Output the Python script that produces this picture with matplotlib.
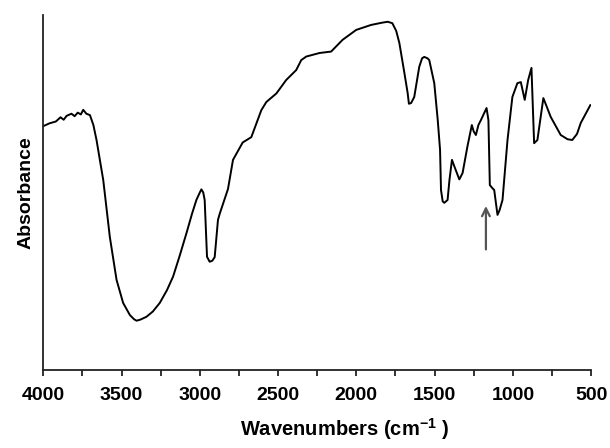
import matplotlib.pyplot as plt
from matplotlib.ticker import MultipleLocator

# IR spectrum (wavenumber, relative absorbance)
wavenumber = [4000, 3960, 3920, 3890, 3870, 3851, 3820, 3800, 3780, 3760, 3745,
              3725, 3702, 3680, 3660, 3617, 3575, 3532, 3490, 3447, 3420, 3404,
              3380, 3341, 3300, 3256, 3210, 3171, 3130, 3085, 3050, 3022, 3000,
              2990, 2978, 2969, 2954, 2937, 2920, 2905, 2884, 2873, 2820, 2788,
              2726, 2671, 2607, 2575, 2511, 2448, 2384, 2352, 2320, 2235, 2161,
              2088, 2001, 1906, 1840, 1800, 1770, 1745, 1725, 1693, 1672, 1664,
              1650, 1630, 1598, 1580, 1566, 1545, 1534, 1502, 1480, 1465, 1459,
              1448, 1438, 1417, 1405, 1389, 1374, 1342, 1321, 1290, 1262, 1250,
              1236, 1220, 1204, 1168, 1156, 1147, 1130, 1119, 1098, 1085, 1066,
              1034, 1003, 971, 949, 924, 902, 881, 864, 843, 805, 780, 758, 694,
              650, 620, 590, 566, 505]
absorbance = [0.687, 0.695, 0.700, 0.712, 0.705, 0.716, 0.722, 0.715, 0.725, 0.720, 0.733,
              0.722, 0.718, 0.690, 0.648, 0.535, 0.375, 0.254, 0.189, 0.155, 0.143, 0.139,
              0.142, 0.150, 0.165, 0.189, 0.225, 0.263, 0.320, 0.386, 0.440, 0.479, 0.500,
              0.509, 0.500, 0.479, 0.319, 0.305, 0.308, 0.318, 0.423, 0.440, 0.510, 0.592,
              0.641, 0.656, 0.732, 0.755, 0.779, 0.817, 0.845, 0.873, 0.883, 0.893, 0.897,
              0.930, 0.958, 0.972, 0.978, 0.981, 0.977, 0.955, 0.921, 0.837, 0.780, 0.750,
              0.752, 0.769, 0.854, 0.878, 0.882, 0.878, 0.873, 0.808, 0.705, 0.620, 0.507,
              0.475, 0.471, 0.479, 0.535, 0.592, 0.574, 0.537, 0.555, 0.630, 0.690, 0.672,
              0.662, 0.690, 0.704, 0.738, 0.704, 0.521, 0.512, 0.507, 0.437, 0.450, 0.479,
              0.648, 0.769, 0.808, 0.811, 0.761, 0.817, 0.851, 0.639, 0.648, 0.766, 0.738,
              0.713, 0.662, 0.650, 0.648, 0.665, 0.696, 0.746]

# arrow marking the band of interest
arrow_x = 1172
arrow_y = (0.332, 0.470)

plt.rcParams.update({
    "font.family": "Liberation Sans",
    "font.weight": "bold",
    "mathtext.fontset": "custom",
    "mathtext.rm": "Liberation Sans:bold",
    "mathtext.bf": "Liberation Sans:bold",
    "mathtext.default": "bf",
})

fig = plt.figure(figsize=(6.1, 4.48), dpi=100)
ax = fig.add_axes([0.071, 0.174, 0.898, 0.7925])

ax.plot(wavenumber, absorbance, color='black', linewidth=1.4,
        solid_joinstyle='round')

ax.annotate('', xy=(arrow_x, arrow_y[1]), xytext=(arrow_x, arrow_y[0]),
            arrowprops=dict(arrowstyle='->', color='#555555', lw=1.6,
                            mutation_scale=14))

ax.set_xlim(4000, 500)
ax.set_ylim(0, 1)
ax.xaxis.set_major_locator(MultipleLocator(500))
ax.xaxis.set_minor_locator(MultipleLocator(250))
ax.tick_params(axis='x', which='both', direction='out', length=4, width=1.3,
               labelsize=14, pad=8, color='#222222')
ax.set_yticks([])

for side in ['top', 'right']:
    ax.spines[side].set_visible(False)
for side in ['left', 'bottom']:
    ax.spines[side].set_linewidth(1.3)
    ax.spines[side].set_color('#222222')

ax.set_ylabel('Absorbance', fontsize=14, fontweight='bold', labelpad=6)
ax.set_xlabel(r'Wavenumbers (cm$^{-1}$ )', fontsize=14.5, fontweight='bold',
              labelpad=6)
ax.xaxis.set_label_coords(0.55, -0.13)

fig.savefig('out.png', dpi=100)
